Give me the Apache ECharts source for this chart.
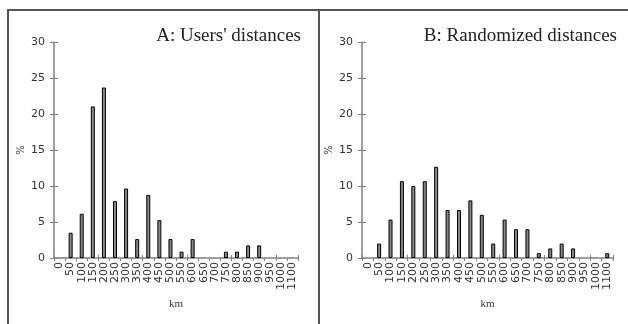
<!DOCTYPE html>
<html>
<head>
<meta charset="utf-8">
<script src="https://cdn.jsdelivr.net/npm/echarts@6/dist/echarts.min.js"></script>
<style>
  html, body { margin: 0; padding: 0; background: #fff; }
  #chart { width: 628px; height: 324px; }
</style>
</head>
<body>
<div id="chart"></div>
<script>
// distance classes (km)
var kmClasses = ['0', '50', '100', '150', '200', '250', '300', '350', '400', '450', '500',
  '550', '600', '650', '700', '750', '800', '850', '900', '950', '1000', '1100'];

// panel A: users' distances (%)
var usersPct = [0, 3.51, 6.14, 21.05, 23.68, 7.89, 9.65, 2.63, 8.77, 5.26, 2.63,
  0.88, 2.63, 0, 0, 0.88, 0.88, 1.75, 1.75, 0, 0, 0];

// panel B: randomized distances (%)
var randomPct = [0, 2.0, 5.33, 10.67, 10.0, 10.67, 12.67, 6.67, 6.67, 8.0, 6.0,
  2.0, 5.33, 4.0, 4.0, 0.67, 1.33, 2.0, 1.33, 0, 0, 0.67];

var titleA = "A: Users' distances";
var titleB = 'B: Randomized distances';

var myChart = echarts.init(document.getElementById('chart'));

var axisGray = '#808080';
var labelFont = { fontFamily: 'DejaVu Sans', fontSize: 11, color: '#333' };

// empty classes draw no bar at all
function noZero(arr) {
  return arr.map(function (v) { return v === 0 ? null : v; });
}

function mainX(grid) {
  return {
    type: 'category', gridIndex: grid, data: kmClasses,
    axisLine: { lineStyle: { color: axisGray, width: 1.5 } },
    axisTick: { show: true, length: 3, lineStyle: { color: axisGray } },
    axisLabel: Object.assign({ rotate: 90, interval: 0, margin: 4 }, labelFont),
    name: 'km', nameLocation: 'middle', nameGap: 41,
    nameTextStyle: { fontFamily: 'Liberation Serif', fontSize: 11, color: '#333' }
  };
}
function innerX(grid) {
  return {
    type: 'category', gridIndex: grid, data: kmClasses, position: 'bottom',
    axisLine: { show: false },
    axisTick: { show: true, inside: true, length: 3, lineStyle: { color: axisGray } },
    axisLabel: { show: false }
  };
}
function mainY(grid) {
  return {
    type: 'value', gridIndex: grid, min: 0, max: 30, interval: 5,
    axisLine: { show: true, lineStyle: { color: axisGray, width: 1.5 } },
    axisTick: { show: true, length: 4, lineStyle: { color: axisGray } },
    splitLine: { show: false },
    axisLabel: Object.assign({ margin: 9 }, labelFont),
    name: '%', nameLocation: 'middle', nameGap: 28, nameRotate: 90,
    nameTextStyle: { fontFamily: 'DejaVu Sans', fontSize: 10, color: '#333' }
  };
}
function innerY(grid) {
  return {
    type: 'value', gridIndex: grid, min: 0, max: 30, interval: 5, position: 'left',
    axisLine: { show: false },
    axisTick: { show: true, inside: true, length: 4, lineStyle: { color: axisGray } },
    splitLine: { show: false },
    axisLabel: { show: false }
  };
}

var barStyle = { color: '#888888', borderColor: '#000', borderWidth: 1 };
var titleFont = { fontFamily: 'Liberation Serif', fontSize: 19, fontWeight: 'normal', color: '#222' };

var option = {
  animation: false,
  grid: [
    { left: 54, top: 42, width: 244, height: 216 },
    { left: 362, top: 42, width: 251, height: 216 }
  ],
  title: [
    { text: titleA, right: 322, top: 22, textStyle: titleFont },
    { text: titleB, right: 6, top: 22, textStyle: titleFont }
  ],
  xAxis: [mainX(0), innerX(0), mainX(1), innerX(1)],
  yAxis: [mainY(0), innerY(0), mainY(1), innerY(1)],
  series: [
    { type: 'bar', xAxisIndex: 0, yAxisIndex: 0, data: noZero(usersPct), barWidth: 4, itemStyle: barStyle },
    { type: 'bar', xAxisIndex: 2, yAxisIndex: 2, data: noZero(randomPct), barWidth: 4, itemStyle: barStyle }
  ],
  graphic: [
    { type: 'polyline', shape: { points: [[8, 324], [8, 10], [628, 10]] },
      style: { stroke: '#555', lineWidth: 2, fill: null } },
    { type: 'line', shape: { x1: 319, y1: 10, x2: 319, y2: 324 },
      style: { stroke: '#555', lineWidth: 2 } }
  ]
};

myChart.setOption(option);
</script>
</body>
</html>
